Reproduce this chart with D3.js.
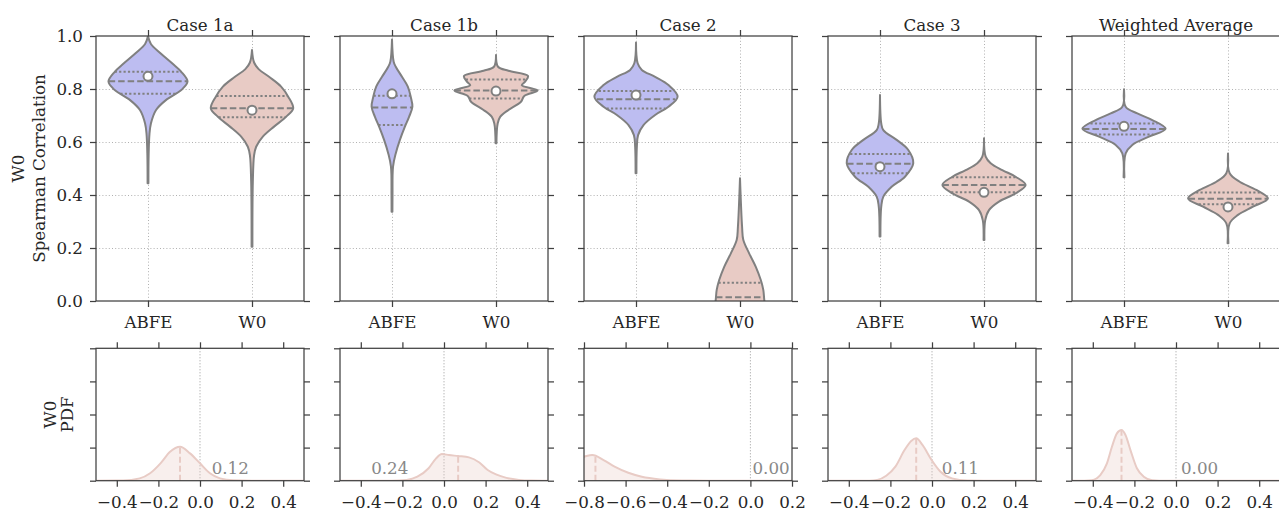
<!DOCTYPE html>
<html lang="en">
<head>
<meta charset="UTF-8">
<title>W0 Spearman Correlation</title>
<script src="https://d3js.org/d3.v7.min.js"></script>
<style>
  body { margin: 0; background: #fff; }
  svg { display: block; }
</style>
</head>
<body>
<svg id="chart" width="1279" height="513"></svg>
<script>
// ---- data ----
const cases = ["Case 1a", "Case 1b", "Case 2", "Case 3", "Weighted Average"];
const groups = ["ABFE", "W0"];
const yTicks = [0, 0.2, 0.4, 0.6, 0.8, 1.0];

// violin outlines: [correlation, half width as fraction of the max width]
const abfeProfiles = [
  [[1.0,0],[0.97,0.07],[0.935,0.3],[0.897,0.58],[0.865,0.8],[0.828,0.95],[0.796,0.8],[0.758,0.43],[0.72,0.19],[0.67,0.07],[0.63,0.035],[0.55,0.015],[0.444,0.01]],
  [[0.987,0],[0.903,0.04],[0.884,0.09],[0.846,0.24],[0.809,0.38],[0.771,0.45],[0.733,0.49],[0.695,0.41],[0.658,0.31],[0.608,0.19],[0.557,0.09],[0.507,0.025],[0.4,0.012],[0.337,0.01]],
  [[0.975,0],[0.897,0.04],[0.872,0.14],[0.846,0.46],[0.815,0.78],[0.771,1.0],[0.733,0.78],[0.702,0.46],[0.664,0.18],[0.626,0.05],[0.58,0.02],[0.482,0.01]],
  [[0.777,0],[0.67,0.03],[0.645,0.08],[0.608,0.4],[0.57,0.68],[0.52,0.8],[0.469,0.6],[0.431,0.28],[0.394,0.08],[0.356,0.03],[0.243,0.01]],
  [[0.799,0],[0.733,0.04],[0.708,0.32],[0.683,0.68],[0.65,1.0],[0.62,0.6],[0.589,0.2],[0.557,0.04],[0.467,0.01]]
];
const w0Profiles = [
  [[0.947,0],[0.9,0.05],[0.875,0.16],[0.846,0.41],[0.809,0.70],[0.771,0.87],[0.727,0.99],[0.695,0.82],[0.658,0.53],[0.62,0.26],[0.582,0.1],[0.55,0.05],[0.45,0.02],[0.205,0.01]],
  [[0.928,0],[0.884,0.05],[0.869,0.3],[0.849,0.77],[0.828,0.7],[0.814,0.62],[0.794,1.0],[0.774,0.68],[0.752,0.6],[0.721,0.3],[0.695,0.1],[0.67,0.04],[0.595,0.01]],
  [[0.463,0],[0.28,0.05],[0.23,0.08],[0.18,0.22],[0.129,0.38],[0.079,0.5],[0.042,0.56],[0.01,0.58],[-0.03,0.6],[-0.08,0.55]],
  [[0.614,0],[0.545,0.04],[0.52,0.16],[0.494,0.44],[0.469,0.76],[0.438,1.0],[0.406,0.76],[0.375,0.36],[0.343,0.12],[0.305,0.03],[0.23,0.01]],
  [[0.557,0],[0.482,0.04],[0.45,0.28],[0.419,0.68],[0.387,0.96],[0.356,0.6],[0.325,0.24],[0.293,0.04],[0.218,0.01]]
];
// [lower quartile, median, upper quartile]
const abfeQuartiles = [[0.782,0.829,0.865],[0.664,0.73,0.775],[0.726,0.761,0.792],[0.482,0.518,0.555],[0.628,0.649,0.67]];
const w0Quartiles = [[0.693,0.727,0.774],[0.764,0.794,0.836],[-0.03,0.014,0.069],[0.41,0.438,0.467],[0.365,0.386,0.409]];
// white markers
const abfeMarks = [0.848, 0.782, 0.777, 0.507, 0.659];
const w0Marks = [0.72, 0.792, -0.05, 0.41, 0.355];

// lower row: W0 density, [x, pdf]
const kdeCurves = [
  [[-0.5,0],[-0.37,0.01],[-0.29,0.14],[-0.24,0.45],[-0.19,1.05],[-0.144,1.75],[-0.096,2.05],[-0.048,1.65],[0,1.05],[0.048,0.45],[0.096,0.14],[0.16,0.02],[0.25,0],[0.5,0]],
  [[-0.5,0],[-0.25,0],[-0.18,0.05],[-0.128,0.24],[-0.074,0.75],[-0.038,1.35],[-0.01,1.61],[0.024,1.55],[0.068,1.49],[0.12,1.41],[0.17,1.1],[0.21,0.65],[0.25,0.38],[0.3,0.17],[0.36,0.05],[0.42,0.01],[0.5,0]],
  [[-0.85,1.3],[-0.8,1.45],[-0.76,1.55],[-0.706,1.25],[-0.653,0.85],[-0.587,0.48],[-0.522,0.24],[-0.435,0.08],[-0.33,0.01],[-0.2,0],[0.2,0]],
  [[-0.5,0],[-0.3,0],[-0.263,0.05],[-0.22,0.3],[-0.176,0.85],[-0.132,1.85],[-0.1,2.4],[-0.076,2.56],[-0.046,2.16],[-0.002,1.25],[0.041,0.54],[0.096,0.14],[0.17,0.01],[0.25,0],[0.5,0]],
  [[-0.5,0],[-0.44,0],[-0.404,0.03],[-0.364,0.34],[-0.332,1.05],[-0.308,2.05],[-0.284,2.86],[-0.262,3.06],[-0.243,2.76],[-0.219,1.85],[-0.188,0.75],[-0.155,0.24],[-0.115,0.03],[-0.08,0],[0.5,0]]
];
const kdeMedians = [-0.096, 0.068, -0.745, -0.076, -0.262];
const kdeLabels = ["0.12", "0.24", "0.00", "0.11", "0.00"];
const kdeLabelX = [0.056, -0.35, 0.01, 0.047, 0.024];
const kdeDomains = [[-0.5,0.5],[-0.5,0.5],[-0.8,0.2],[-0.5,0.5],[-0.5,0.5]];
const kdeTicks = [
  [-0.4,-0.2,0,0.2,0.4],
  [-0.4,-0.2,0,0.2,0.4],
  [-0.8,-0.6,-0.4,-0.2,0,0.2],
  [-0.4,-0.2,0,0.2,0.4],
  [-0.4,-0.2,0,0.2,0.4]
];
const pdfTicks = [0, 2, 4, 6, 8];

// ---- layout / style ----
const FONT = "DejaVu Serif";
const FS = 16.7;
const AXIS = "#404040";
const GRID = "#b0b0b0";
const EDGE = "#808080";
const BLUE = "#bdbdf1";
const PINK = "#e8cbc5";
const TEXT = "#262626";

const panelLeft = 96, panelStep = 244, panelW = 208;
const topY = 36, topH = 265;
const botY = 348.3, botH = 132.4;

const svg = d3.select("#chart");
const fmt = d3.format(".1f");

function styleAxis(sel) {
  sel.attr("font-family", null).attr("font-size", null);
  sel.select(".domain").remove();
  sel.selectAll(".tick line").attr("stroke", AXIS).attr("stroke-width", 1.25);
  sel.selectAll(".tick text")
    .attr("font-family", FONT).attr("font-size", FS).attr("fill", TEXT);
}

// linear read of a profile at a value
function widthAt(profile, v) {
  const pts = profile.slice().sort((a, b) => a[0] - b[0]);
  if (v <= pts[0][0]) return pts[0][1];
  for (let k = 1; k < pts.length; k++) {
    if (v <= pts[k][0]) {
      const t = (v - pts[k-1][0]) / (pts[k][0] - pts[k-1][0]);
      return pts[k-1][1] + t * (pts[k][1] - pts[k-1][1]);
    }
  }
  return pts[pts.length - 1][1];
}

cases.forEach((name, i) => {
  const left = panelLeft + i * panelStep;

  // ===== upper row: violins =====
  const g = svg.append("g").attr("transform", `translate(${left},${topY})`);
  const x = d3.scalePoint().domain(groups).range([0, panelW]).padding(0.5);
  const y = d3.scaleLinear().domain([0, 1]).range([topH, 0]);
  const maxHalf = 0.4 * x.step();

  g.append("clipPath").attr("id", `clipTop${i}`)
    .append("rect").attr("width", panelW).attr("height", topH);

  // grid
  g.append("g")
    .call(d3.axisLeft(y).tickValues(yTicks.slice(1, -1)).tickSize(-panelW).tickFormat(""))
    .call(s => { s.select(".domain").remove();
      s.selectAll("line").attr("stroke", GRID).attr("stroke-dasharray", "1,2.2"); });
  g.append("g").attr("transform", `translate(0,${topH})`)
    .call(d3.axisBottom(x).tickSize(-topH).tickFormat(""))
    .call(s => { s.select(".domain").remove();
      s.selectAll("line").attr("stroke", GRID).attr("stroke-dasharray", "1,2.2"); });

  const plot = g.append("g").attr("clip-path", `url(#clipTop${i})`);
  const sets = [
    { key: "ABFE", profile: abfeProfiles[i], q: abfeQuartiles[i], m: abfeMarks[i], fill: BLUE },
    { key: "W0", profile: w0Profiles[i], q: w0Quartiles[i], m: w0Marks[i], fill: PINK }
  ];
  sets.forEach(s => {
    const cx = x(s.key);
    const area = d3.area()
      .curve(d3.curveCatmullRom)
      .y(d => y(d[0]))
      .x0(d => cx - d[1] * maxHalf)
      .x1(d => cx + d[1] * maxHalf);
    plot.append("path").datum(s.profile)
      .attr("d", area)
      .attr("fill", s.fill)
      .attr("stroke", EDGE)
      .attr("stroke-width", 2)
      .attr("stroke-linejoin", "round");
    s.q.forEach((v, k) => {
      const w = widthAt(s.profile, v) * maxHalf;
      plot.append("line")
        .attr("x1", cx - w).attr("x2", cx + w)
        .attr("y1", y(v)).attr("y2", y(v))
        .attr("stroke", EDGE)
        .attr("stroke-width", 2)
        .attr("stroke-dasharray", k === 1 ? "6.5,3" : "2.2,2.2");
    });
    plot.append("circle")
      .attr("cx", cx).attr("cy", y(s.m)).attr("r", 4.5)
      .attr("fill", "#fff").attr("stroke", EDGE).attr("stroke-width", 2);
  });

  g.append("rect").attr("width", panelW).attr("height", topH)
    .attr("fill", "none").attr("stroke", AXIS).attr("stroke-width", 1.25);

  g.append("g")
    .call(d3.axisLeft(y).tickValues(yTicks).tickSize(6).tickPadding(7)
      .tickFormat(i === 0 ? fmt : ""))
    .call(styleAxis);
  g.append("g").attr("transform", `translate(${panelW},0)`)
    .call(d3.axisRight(y).tickValues(yTicks).tickSize(6).tickFormat(""))
    .call(styleAxis);
  g.append("g")
    .call(d3.axisTop(x).tickSize(6).tickFormat(""))
    .call(styleAxis);
  g.append("g").attr("transform", `translate(0,${topH})`)
    .call(d3.axisBottom(x).tickSize(6).tickPadding(9))
    .call(styleAxis);

  g.append("text")
    .attr("x", panelW / 2).attr("y", -5.5)
    .attr("text-anchor", "middle")
    .attr("font-family", FONT).attr("font-size", FS).attr("fill", TEXT)
    .text(name);

  // ===== lower row: W0 density =====
  const b = svg.append("g").attr("transform", `translate(${left},${botY})`);
  const xk = d3.scaleLinear().domain(kdeDomains[i]).range([0, panelW]);
  const yk = d3.scaleLinear().domain([0, 8]).range([botH, 0]);

  b.append("clipPath").attr("id", `clipBot${i}`)
    .append("rect").attr("width", panelW).attr("height", botH);
  const bp = b.append("g").attr("clip-path", `url(#clipBot${i})`);

  bp.append("line")
    .attr("x1", xk(0)).attr("x2", xk(0))
    .attr("y1", 0).attr("y2", botH)
    .attr("stroke", "#999").attr("stroke-width", 1)
    .attr("stroke-dasharray", "1,2");

  const curve = kdeCurves[i];
  bp.append("path").datum(curve)
    .attr("d", d3.area().curve(d3.curveMonotoneX)
      .x(d => xk(d[0])).y0(botH).y1(d => yk(d[1])))
    .attr("fill", PINK).attr("fill-opacity", 0.3);
  bp.append("path").datum(curve)
    .attr("d", d3.line().curve(d3.curveMonotoneX)
      .x(d => xk(d[0])).y(d => yk(d[1])))
    .attr("fill", "none").attr("stroke", PINK).attr("stroke-width", 2);

  const med = kdeMedians[i];
  bp.append("line")
    .attr("x1", xk(med)).attr("x2", xk(med))
    .attr("y1", botH).attr("y2", yk(widthAt(curve, med)))
    .attr("stroke", PINK).attr("stroke-width", 2)
    .attr("stroke-dasharray", "6,3");

  b.append("text")
    .attr("x", xk(kdeLabelX[i])).attr("y", botH - 6.7)
    .attr("font-family", FONT).attr("font-size", FS).attr("fill", "#888")
    .text(kdeLabels[i]);

  b.append("rect").attr("width", panelW).attr("height", botH)
    .attr("fill", "none").attr("stroke", AXIS).attr("stroke-width", 1.25);

  b.append("g")
    .call(d3.axisLeft(yk).tickValues(pdfTicks).tickSize(6).tickFormat(""))
    .call(styleAxis);
  b.append("g").attr("transform", `translate(${panelW},0)`)
    .call(d3.axisRight(yk).tickValues(pdfTicks).tickSize(6).tickFormat(""))
    .call(styleAxis);
  b.append("g")
    .call(d3.axisTop(xk).tickValues(kdeTicks[i]).tickSize(6).tickFormat(""))
    .call(styleAxis);
  b.append("g").attr("transform", `translate(0,${botH})`)
    .call(d3.axisBottom(xk).tickValues(kdeTicks[i]).tickSize(6).tickPadding(9).tickFormat(fmt))
    .call(styleAxis);
});

// row labels
function rowLabel(lines, cy, xs) {
  lines.forEach((t, k) => {
    svg.append("text")
      .attr("transform", `translate(${xs[k]},${cy}) rotate(-90)`)
      .attr("text-anchor", "middle")
      .attr("font-family", FONT).attr("font-size", FS).attr("fill", TEXT)
      .text(t);
  });
}
rowLabel(["W0", "Spearman Correlation"], topY + topH / 2, [24, 45]);
rowLabel(["W0", "PDF"], botY + botH / 2, [56, 72.5]);
</script>
</body>
</html>
